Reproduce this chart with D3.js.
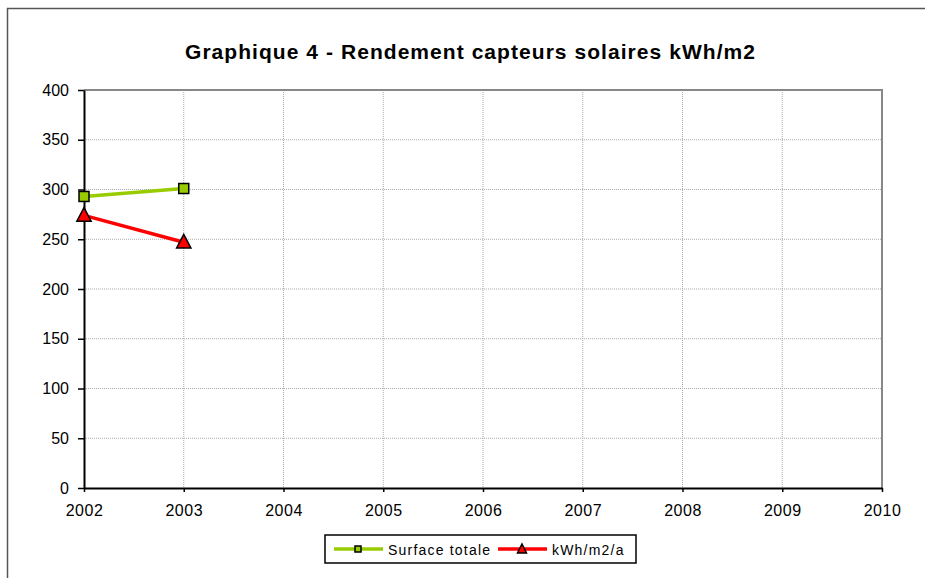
<!DOCTYPE html>
<html>
<head>
<meta charset="utf-8">
<script src="https://cdn.jsdelivr.net/npm/d3@7"></script>
<style>
  body { margin: 0; background: #fff; }
  svg { display: block; font-family: "Liberation Sans", Arial, sans-serif; }
</style>
</head>
<body>
<script>
// data
var years = [2002, 2003];
var surfaceTotale = [293, 301];
var kwhM2 = [274, 247];
var yTicks = [0, 50, 100, 150, 200, 250, 300, 350, 400];
var xTicks = [2002, 2003, 2004, 2005, 2006, 2007, 2008, 2009, 2010];

var series = [
  { name: "Surface totale", values: surfaceTotale, color: "#99cc00", marker: "square" },
  { name: "kWh/m2/a", values: kwhM2, color: "#ff0000", marker: "triangle" }
];

var width = 925, height = 578;
var svg = d3.select("body").append("svg").attr("width", width).attr("height", height);

// outer chart frame
svg.append("rect").attr("x", 7.5).attr("y", 8.5).attr("width", 930).attr("height", 590)
  .attr("fill", "#fff").attr("stroke", "#555").attr("stroke-width", 1.5);

svg.append("text").attr("x", 470).attr("y", 59).attr("text-anchor", "middle")
  .attr("font-size", 21).attr("font-weight", "bold").attr("fill", "#000")
  .attr("textLength", 570).attr("lengthAdjust", "spacing")
  .text("Graphique 4 - Rendement capteurs solaires kWh/m2");

var x = d3.scaleLinear().domain([2002, 2010]).range([84, 882]);
var y = d3.scaleLinear().domain([0, 400]).range([488, 90]);

// grid
var grid = svg.append("g");
grid.selectAll(".hg").data(yTicks.slice(1)).enter().append("line")
  .attr("x1", 84).attr("x2", 882).attr("y1", d => y(d)).attr("y2", d => y(d))
  .attr("stroke", "#aaa").attr("stroke-width", 1).attr("stroke-dasharray", "1,1");
grid.selectAll(".vg").data(xTicks.slice(1)).enter().append("line")
  .attr("y1", 90).attr("y2", 488).attr("x1", d => x(d)).attr("x2", d => x(d))
  .attr("stroke", "#aaa").attr("stroke-width", 1).attr("stroke-dasharray", "1,1");

// plot area right/top border
svg.append("path").attr("d", "M84,90H882V488").attr("fill", "none")
  .attr("stroke", "#888").attr("stroke-width", 2);

// axes
var yAxis = svg.append("g").attr("transform", "translate(84,0)")
  .call(d3.axisLeft(y).tickValues(yTicks).tickSize(6).tickSizeOuter(0).tickPadding(9));
var xAxis = svg.append("g").attr("transform", "translate(0,488)")
  .call(d3.axisBottom(x).tickValues(xTicks).tickFormat(d3.format("d")).tickSize(4).tickSizeOuter(0).tickPadding(13));
[yAxis, xAxis].forEach(function(a) {
  a.select(".domain").attr("stroke", "#000").attr("stroke-width", 2);
  a.selectAll(".tick line").attr("stroke", "#000").attr("stroke-width", 1.5);
  a.selectAll("text").attr("font-size", 16).attr("fill", "#000")
    .attr("font-family", "'Liberation Sans', Arial, sans-serif");
});
xAxis.selectAll("text").attr("letter-spacing", 0.5);

function drawMarker(g, kind, cx, cy, size, color) {
  if (kind === "square") {
    g.append("rect").attr("x", cx - size / 2).attr("y", cy - size / 2)
      .attr("width", size).attr("height", size)
      .attr("fill", color).attr("stroke", "#000").attr("stroke-width", 1.5);
  } else {
    var h = size;
    g.append("path")
      .attr("d", "M" + cx + "," + (cy - h * 0.6) + "L" + (cx + h * 0.55) + "," + (cy + h * 0.45) +
        "L" + (cx - h * 0.55) + "," + (cy + h * 0.45) + "Z")
      .attr("fill", color).attr("stroke", "#000").attr("stroke-width", 1.5);
  }
}

var line = d3.line().x(d => x(d[0])).y(d => y(d[1]));
series.forEach(function(s) {
  var pts = years.map((yr, i) => [yr, s.values[i]]);
  svg.append("path").datum(pts).attr("d", line).attr("fill", "none")
    .attr("stroke", s.color).attr("stroke-width", 3.5);
  var g = svg.append("g");
  pts.forEach(function(p) {
    drawMarker(g, s.marker, x(p[0]), y(p[1]), s.marker === "square" ? 10 : 13, s.color);
  });
});

// legend
var legend = svg.append("g");
legend.append("rect").attr("x", 325).attr("y", 535).attr("width", 311).attr("height", 28)
  .attr("fill", "#fff").attr("stroke", "#000").attr("stroke-width", 1.5);
var lx = [334, 498];
series.forEach(function(s, i) {
  var g = legend.append("g");
  g.append("line").attr("x1", lx[i]).attr("x2", lx[i] + 49).attr("y1", 549).attr("y2", 549)
    .attr("stroke", s.color).attr("stroke-width", 3.5);
  if (s.marker === "square") {
    g.append("rect").attr("x", lx[i] + 21).attr("y", 546).attr("width", 6).attr("height", 6)
      .attr("fill", s.color).attr("stroke", "#000").attr("stroke-width", 1.5);
  } else {
    var cx = lx[i] + 24;
    g.append("path").attr("d", "M" + cx + ",544L" + (cx + 4.5) + ",553L" + (cx - 4.5) + ",553Z")
      .attr("fill", s.color).attr("stroke", "#000").attr("stroke-width", 1.5);
  }
  g.append("text").attr("x", lx[i] + 54).attr("y", 555).attr("font-size", 14).attr("fill", "#000")
    .attr("letter-spacing", 1.2)
    .text(s.name);
});
</script>
</body>
</html>
